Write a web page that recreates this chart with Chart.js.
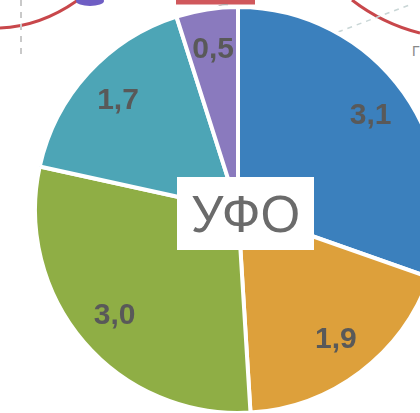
<!DOCTYPE html>
<html>
<head>
<meta charset="utf-8">
<script src="https://cdn.jsdelivr.net/npm/chart.js@4/dist/chart.umd.min.js"></script>
<style>
  html, body { margin: 0; padding: 0; background: #fff; }
  body { width: 420px; height: 413px; overflow: hidden; position: relative; }
  #bg { position: absolute; left: 0; top: 0; }
  #wrap { position: absolute; left: 33px; top: 5px; width: 410px; height: 410px; }
  #title {
    position: absolute; left: 177px; top: 177px; width: 137px; height: 73px;
    background: #fff; color: #6b6b6b;
    font-family: "Liberation Sans", Arial, sans-serif; font-size: 51px;
    line-height: 76px; text-align: center;
  }
</style>
</head>
<body>
<!-- bits of the map behind the pie -->
<svg id="bg" width="420" height="60">
  <path d="M0 28 C 25 27, 50 20, 78 0" stroke="#c8474b" stroke-width="3" fill="none"/>
  <ellipse cx="90" cy="1" rx="14" ry="5" fill="#6f5ec4"/>
  <line x1="21" y1="0" x2="21" y2="55" stroke="#c9c9c9" stroke-width="2" stroke-dasharray="6 6"/>
  <path d="M176 2 L 255 2" stroke="#d0585c" stroke-width="5" fill="none"/>
  <path d="M214 12 C 216 6, 222 4, 228 5" stroke="#aaa" stroke-width="1.5" fill="none"/>
  <path d="M352 0 C 370 14, 392 26, 420 33" stroke="#c8474b" stroke-width="3" fill="none"/>
  <line x1="338" y1="32" x2="412" y2="4" stroke="#c9d6d6" stroke-width="1.5" stroke-dasharray="5 5"/>
  <text x="412" y="56" font-family="Liberation Sans" font-size="14" fill="#888">Г</text>
</svg>
<div id="wrap"><canvas id="pie" width="410" height="410"></canvas></div>
<div id="title">УФО</div>
<script>
// slice data, clockwise from 12 o'clock
const sliceNames = ['Сегмент 1', 'Сегмент 2', 'Сегмент 3', 'Сегмент 4', 'Сегмент 5'];
const sliceValues = [3.1, 1.9, 3.0, 1.7, 0.5];
const sliceColors = ['#3b80bd', '#dda03b', '#8fae45', '#4da5b6', '#8a7abe'];

// draws the value inside each slice
const sliceLabels = {
  id: 'sliceLabels',
  afterDatasetsDraw(chart) {
    const ctx = chart.ctx;
    const meta = chart.getDatasetMeta(0);
    ctx.save();
    ctx.font = 'bold 30px "Liberation Sans", Arial, sans-serif';
    ctx.fillStyle = '#595959';
    ctx.textAlign = 'center';
    ctx.textBaseline = 'middle';
    meta.data.forEach((arc, i) => {
      const p = arc.getProps(['x', 'y', 'startAngle', 'endAngle', 'outerRadius'], true);
      const mid = (p.startAngle + p.endAngle) / 2;
      const r = p.outerRadius * 0.8;
      const text = sliceValues[i].toFixed(1).replace('.', ',');
      ctx.fillText(text, p.x + Math.cos(mid) * r, p.y + Math.sin(mid) * r);
    });
    ctx.restore();
  }
};

new Chart(document.getElementById('pie'), {
  type: 'pie',
  data: {
    labels: sliceNames,
    datasets: [{
      data: sliceValues,
      backgroundColor: sliceColors,
      borderColor: '#ffffff',
      borderWidth: 4
    }]
  },
  options: {
    responsive: false,
    animation: false,
    layout: { padding: 0 },
    plugins: {
      legend: { display: false },
      tooltip: { enabled: false }
    }
  },
  plugins: [sliceLabels]
});
</script>
</body>
</html>
